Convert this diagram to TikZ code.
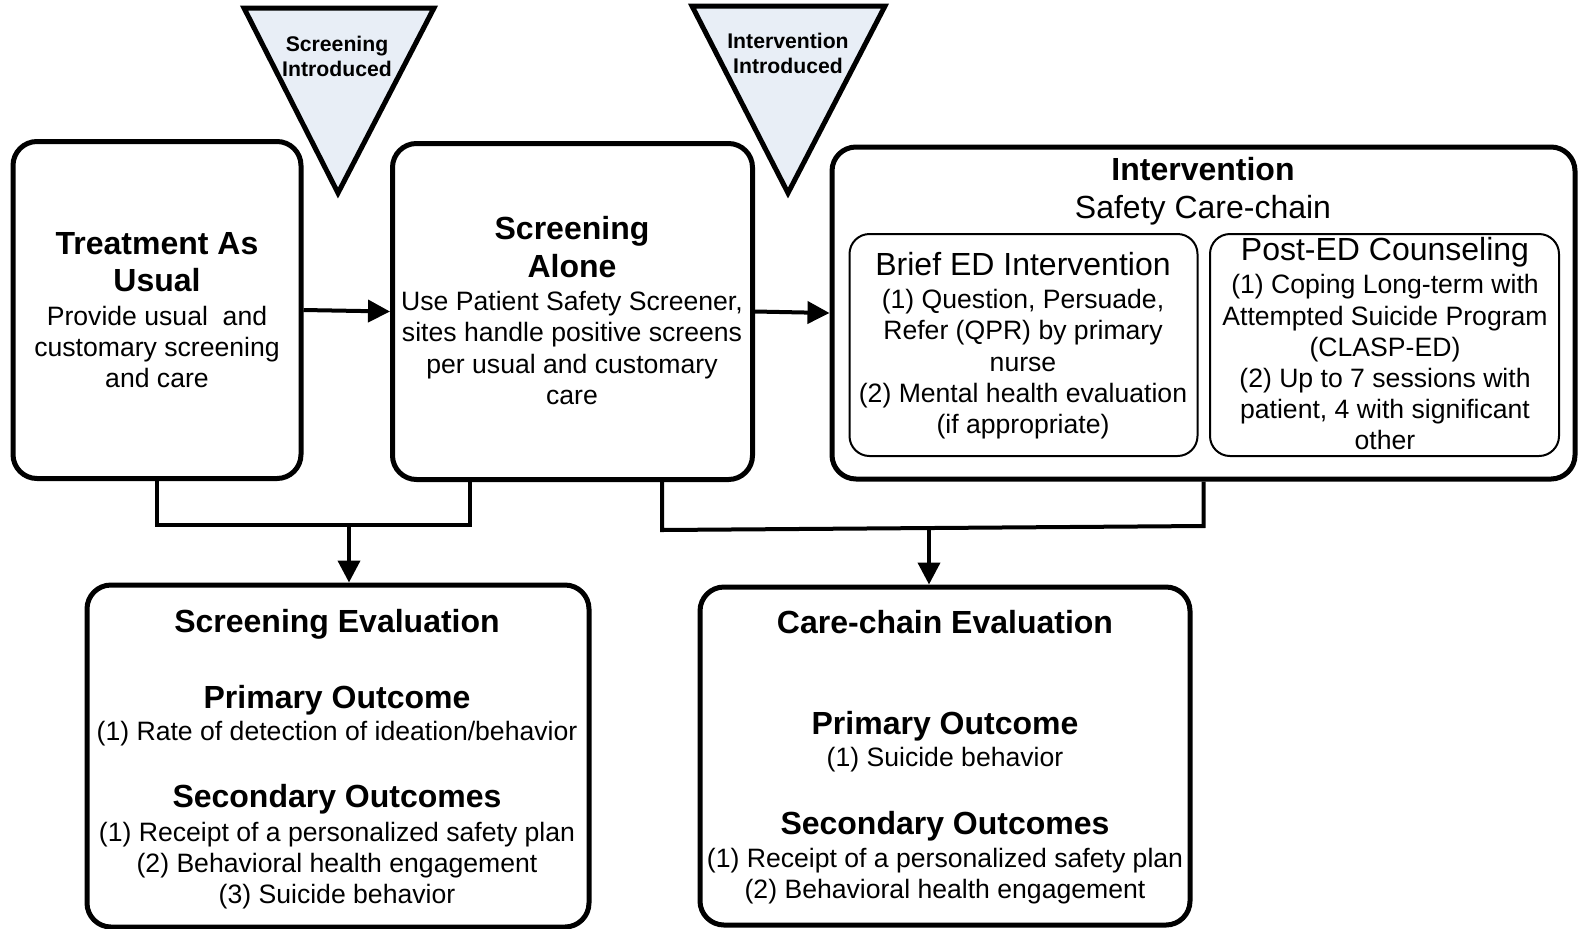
\documentclass[tikz,border=0pt]{standalone}
\usepackage{fontspec}
\setmainfont{Liberation Sans}
\usetikzlibrary{arrows.meta}
\definecolor{trifill}{RGB}{232,238,246}
\begin{document}
\begin{tikzpicture}[x=0.5pt,y=-0.5pt,
  box/.style={draw, line width=2.5pt, rounded corners=12pt, inner sep=0pt},
  inbox/.style={draw, line width=1pt, rounded corners=10pt, inner sep=0pt},
  ttl/.style={font=\fontsize{16}{18.6}\selectfont\bfseries, align=center, inner sep=0pt},
  bod/.style={font=\fontsize{13.3}{15.6}\selectfont, align=center, inner sep=0pt},
  big/.style={font=\fontsize{16}{18.6}\selectfont, align=center, inner sep=0pt},
  tritext/.style={font=\fontsize{10.6}{12.1}\selectfont\bfseries, align=center, inner sep=0pt},
  tri/.style={draw, line width=2.5pt, fill=trifill},
  conn/.style={draw, line width=2pt},
  arr/.style={-{Triangle[length=11pt,width=11pt]}}]
\useasboundingbox (0,0) rectangle (1579,928);

% triangles
\draw[tri] (244,8) -- (434,8) -- (338,193) -- cycle;
\node[tritext] (t1) at (337,56.4) {Screening\\Introduced};
\draw[tri] (692,6) -- (885,6) -- (788,193) -- cycle;
\node[tritext] (t2) at (788,53.4) {Intervention\\Introduced};

% boxes
\node[box, minimum width=144pt, minimum height=168.5pt] (tau) at (157,310) {};
\node[box, minimum width=180pt, minimum height=168pt] (sa) at (572.5,311.5) {};
\node[box, minimum width=371.5pt, minimum height=166pt] (int) at (1203.5,313) {};
\node[inbox, minimum width=174pt, minimum height=111pt] (brief) at (1023.5,345) {};
\node[inbox, minimum width=174.5pt, minimum height=111pt] (post) at (1384.5,345) {};
\node[box, minimum width=251pt, minimum height=171pt] (se) at (338,756) {};
\node[box, minimum width=245pt, minimum height=169pt] (cc) at (945,756) {};

% texts
\node[ttl] (taut) at (157,262) {Treatment As\\Usual};
\node[bod] (taub) at (157,347) {Provide usual\ \ and\\customary screening\\and care};
\node[ttl] (sat) at (572,247) {Screening\\Alone};
\node[bod] (sab) at (572,348) {Use Patient Safety Screener,\\sites handle positive screens\\per usual and customary\\care};
\node[ttl] (intt) at (1203,169) {Intervention};
\node[big] (ints) at (1203,210.3) {Safety Care-chain};
\node[big] (brieft) at (1023,264.5) {Brief ED Intervention};
\node[bod] (briefb) at (1023,364.3) {(1) Question, Persuade,\\Refer (QPR) by primary\\nurse\\(2) Mental health evaluation\\(if appropriate)};
\node[big] (postt) at (1385,252.6) {Post-ED Counseling};
\node[bod] (postb) at (1385,362.3) {(1) Coping Long-term with\\Attempted Suicide Program\\(CLASP-ED)\\(2) Up to 7 sessions with\\patient, 4 with significant\\other};

\node[ttl] (set) at (337,624) {Screening Evaluation};
\node[ttl] (sep) at (337,700.5) {Primary Outcome};
\node[bod] (sepb) at (337,733.7) {(1) Rate of detection of ideation/behavior};
\node[ttl] (ses) at (337,799.1) {Secondary Outcomes};
\node[bod] (sesb) at (337,865.6) {(1) Receipt of a personalized safety plan\\(2) Behavioral health engagement\\(3) Suicide behavior};

\node[ttl] (cct) at (945,622.5) {Care-chain Evaluation};
\node[ttl] (ccp) at (945,726.7) {Primary Outcome};
\node[bod] (ccpb) at (945,759.9) {(1) Suicide behavior};
\node[ttl] (ccs) at (945,826.3) {Secondary Outcomes};
\node[bod] (ccsb) at (945,876.1) {(1) Receipt of a personalized safety plan\\(2) Behavioral health engagement};

% connectors
\draw[conn, arr] (tau.east) -- (sa.west);
\draw[conn, arr] (sa.east) -- (int.west);

\coordinate (b1r) at (470,525);
\coordinate (j1) at (349,525);
\draw[conn] (tau.south) |- (b1r) -- (b1r |- sa.south);
\draw[conn, arr] (j1) -- (j1 |- se.north);

\coordinate (b2l) at (662,530);
\coordinate (b2r) at (1203.5,526);
\coordinate (j2) at (929,528);
\draw[conn] (b2l |- sa.south) -- (b2l) -- (b2r) -- (int.south);
\draw[conn, arr] (j2) -- (j2 |- cc.north);
\end{tikzpicture}
\end{document}
